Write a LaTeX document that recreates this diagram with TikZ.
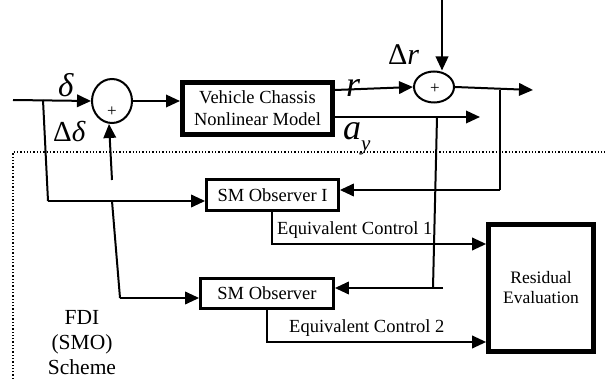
\documentclass[tikz,border=0pt]{standalone}
\usepackage{fontspec}
\setmainfont{Liberation Serif}
\usetikzlibrary{arrows.meta,shapes.geometric}
\begin{document}
\begin{tikzpicture}[x=1pt,y=-1pt,
  ln/.style={line width=2pt},
  ar/.style={ln,-{Triangle[length=14pt,width=12.5pt]}},
  sumnode/.style={ellipse,draw,line width=2pt,inner sep=0pt},
  blk/.style={rectangle,draw,inner sep=0pt,align=center},
  txt/.style={font=\fontsize{18.5}{22}\selectfont},
  mathlbl/.style={anchor=base west,inner sep=0pt}
]
\useasboundingbox (0,0) rectangle (605,379);

% frame (dotted)
\coordinate (d1) at (13,379);
\coordinate (d2) at (13,152);
\coordinate (d3) at (605,152);
\draw[dotted,line width=1.3pt] (d1) -- (d2) -- (d3);

% nodes
\node[sumnode,minimum width=40pt,minimum height=44pt] (s1) at (112,101) {};
\node[font=\fontsize{17}{17}\selectfont,inner sep=0pt] (p1) at (112,112) {+};
\node[blk,line width=5pt,minimum width=150pt,minimum height=52pt,txt] (veh) at (257.5,108.5) {Vehicle Chassis\\Nonlinear Model};
\node[sumnode,minimum width=40pt,minimum height=31pt] (s2) at (434,87) {};
\node[font=\fontsize{17}{17}\selectfont,inner sep=0pt] (p2) at (435,89) {+};
\node[blk,line width=3.3pt,minimum width=131.5pt,minimum height=30.5pt,txt] (o1) at (272.5,195) {SM Observer I};
\node[blk,line width=3.3pt,minimum width=132.5pt,minimum height=29.5pt,txt] (o2) at (267,293.5) {SM Observer};
\node[blk,line width=4.7pt,minimum width=105pt,minimum height=127pt,font=\fontsize{17.5}{20}\selectfont] (res) at (541,288) {Residual\\Evaluation};

% coordinates
\coordinate (in) at (13,100);
\coordinate (b1) at (43,100);
\coordinate (b1d) at (48,201);
\coordinate (b2) at (112,201);
\coordinate (b2d) at (120,298);
\coordinate (up) at (112,180);
\coordinate (out) at (533,90);
\coordinate (dr) at (442,0);
\coordinate (ayend) at (480,117);
\coordinate (v1) at (500,90);
\coordinate (v1d) at (500,190);
\coordinate (v2) at (437,117);
\coordinate (v2d) at (433,288);
\coordinate (v2e) at (443,288);
\coordinate (e1) at (272,244);
\coordinate (e2) at (267,342);

% connectors
\draw[ar] (in) -- (s1.west);
\draw[ar] (s1.east) -- (veh.west |- s1.east);
\draw[ln] (b1) -- (b1d);
\draw[ar] (b1d) -- (o1.west |- b1d);
\draw[ln] (b2) -- (b2d);
\draw[ar] (b2d) -- (o2.west |- b2d);
\draw[ar] (up) -- ([xshift=-3pt]s1.south);
\draw[ar] ([yshift=18.5pt]veh.east) -- (s2.west);
\draw[ar] (s2.east) -- (out);
\draw[ar] (dr) -- (dr |- s2.north);
\draw[ar] ([yshift=-8.5pt]veh.east) -- (ayend);
\draw[ln] (v1) -- (v1d);
\draw[ar] (v1d) -- (o1.east |- v1d);
\draw[ln] (v2) -- (v2d);
\draw[ar] (v2e) -- (o2.east |- v2e);
\draw[ar] (o1.south -| e1) -- (e1) -- (res.west |- e1);
\draw[ar] (o2.south -| e2) -- (e2) -- (res.west |- e2);

% labels
\node[mathlbl,font=\fontsize{33}{33}\selectfont\itshape] (ldelta) at (58,97) {δ};
\node[mathlbl,font=\fontsize{29}{29}\selectfont] (lddelta) at (53,142) {Δ\textit{δ}};
\node[mathlbl,font=\fontsize{36}{36}\selectfont\itshape] (lr) at (346,97) {r};
\node[mathlbl,font=\fontsize{30}{30}\selectfont] (ldr) at (388,65) {Δ\textit{r}};
\node[mathlbl,font=\fontsize{36}{36}\selectfont\itshape] (lay) at (343,140) {a\raisebox{-0.3em}{\fontsize{21}{21}\selectfont y}};
\node[mathlbl,txt] (eq1) at (277,235) {Equivalent Control 1};
\node[mathlbl,txt] (eq2) at (289,332) {Equivalent Control 2};
\node[align=center,font=\fontsize{21.5}{25}\selectfont] (fdi) at (82,343) {FDI\\(SMO)\\Scheme};
\end{tikzpicture}
\end{document}
